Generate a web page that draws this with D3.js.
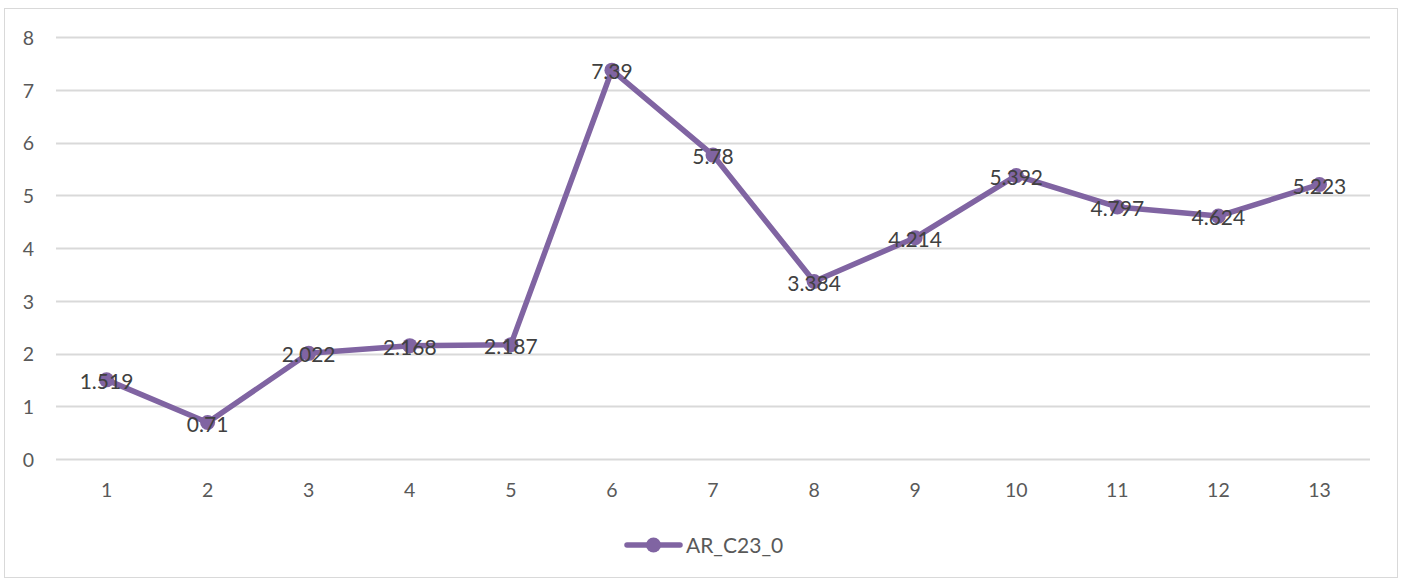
<!DOCTYPE html>
<html>
<head>
<meta charset="utf-8">
<script src="https://cdn.jsdelivr.net/npm/d3@7"></script>
<style>
  html, body { margin: 0; padding: 0; background: #fff; }
  svg { display: block; }
  text { font-family: Lato, "Open Sans", sans-serif; }
</style>
</head>
<body>
<svg id="chart" width="1401" height="581"></svg>
<script>
// Series data
const categories = ["1", "2", "3", "4", "5", "6", "7", "8", "9", "10", "11", "12", "13"];
const values = [1.519, 0.71, 2.022, 2.168, 2.187, 7.39, 5.78, 3.384, 4.214, 5.392, 4.797, 4.624, 5.223];
const labels = ["1.519", "0.71", "2.022", "2.168", "2.187", "7.39", "5.78", "3.384", "4.214", "5.392", "4.797", "4.624", "5.223"];
const yTicks = [0, 1, 2, 3, 4, 5, 6, 7, 8];
const seriesName = "AR_C23_0";

const color = "#8064A2";
const svg = d3.select("#chart");

// Outer chart frame
svg.append("rect")
  .attr("x", 4.5).attr("y", 8.5)
  .attr("width", 1393).attr("height", 569)
  .attr("fill", "#fff").attr("stroke", "#d9d9d9").attr("stroke-width", 1);

const plot = { left: 56, right: 1370, top: 38, bottom: 460 };

const x = d3.scaleBand().domain(categories).range([plot.left, plot.right]);
const y = d3.scaleLinear().domain([0, 8]).range([plot.bottom, plot.top]);

// Horizontal gridlines
svg.append("g")
  .selectAll("line")
  .data(yTicks)
  .join("line")
  .attr("x1", plot.left).attr("x2", plot.right)
  .attr("y1", d => Math.round(y(d)) - 0.5).attr("y2", d => Math.round(y(d)) - 0.5)
  .attr("stroke", "#d9d9d9").attr("stroke-width", 2);

// Y axis labels
const yAxis = d3.axisLeft(y).tickValues(yTicks).tickSize(0).tickPadding(0);
const gy = svg.append("g").attr("transform", `translate(34,0)`).call(yAxis);
gy.select(".domain").remove();
gy.selectAll("text")
  .attr("font-size", 19.5).attr("fill", "#595959")
  .attr("text-anchor", "end")
  .style("font-family", "Lato, 'Open Sans', sans-serif");

// X axis labels
const xAxis = d3.axisBottom(x).tickSize(0).tickPadding(0);
const gx = svg.append("g").attr("transform", `translate(0,${plot.bottom + 23})`).call(xAxis);
gx.select(".domain").remove();
gx.selectAll("text")
  .attr("font-size", 19.5).attr("fill", "#595959")
  .style("font-family", "Lato, 'Open Sans', sans-serif");

const cx = d => x(d) + x.bandwidth() / 2;

// Line
const line = d3.line()
  .x((d, i) => cx(categories[i]))
  .y(d => y(d));

svg.append("path")
  .datum(values)
  .attr("d", line)
  .attr("fill", "none")
  .attr("stroke", color)
  .attr("stroke-width", 5.5)
  .attr("stroke-linejoin", "round")
  .attr("stroke-linecap", "round");

// Markers
svg.append("g")
  .selectAll("circle")
  .data(values)
  .join("circle")
  .attr("cx", (d, i) => cx(categories[i]))
  .attr("cy", d => y(d))
  .attr("r", 7.5)
  .attr("fill", color);

// Data labels
svg.append("g")
  .selectAll("text")
  .data(values)
  .join("text")
  .attr("x", (d, i) => cx(categories[i]))
  .attr("y", d => y(d) + 1.5)
  .attr("dy", "0.36em")
  .attr("text-anchor", "middle")
  .attr("font-size", 21)
  .attr("fill", "#404040")
  .text((d, i) => labels[i]);

// Legend
const lg = svg.append("g").attr("transform", "translate(627,545)");
lg.append("line")
  .attr("x1", 0).attr("x2", 53).attr("y1", 0).attr("y2", 0)
  .attr("stroke", color).attr("stroke-width", 5.5).attr("stroke-linecap", "round");
lg.append("circle").attr("cx", 26.5).attr("cy", 0).attr("r", 7.5).attr("fill", color);
lg.append("text")
  .attr("x", 59).attr("y", 0).attr("dy", "0.36em")
  .attr("font-size", 21).attr("fill", "#595959")
  .text(seriesName);
</script>
</body>
</html>
